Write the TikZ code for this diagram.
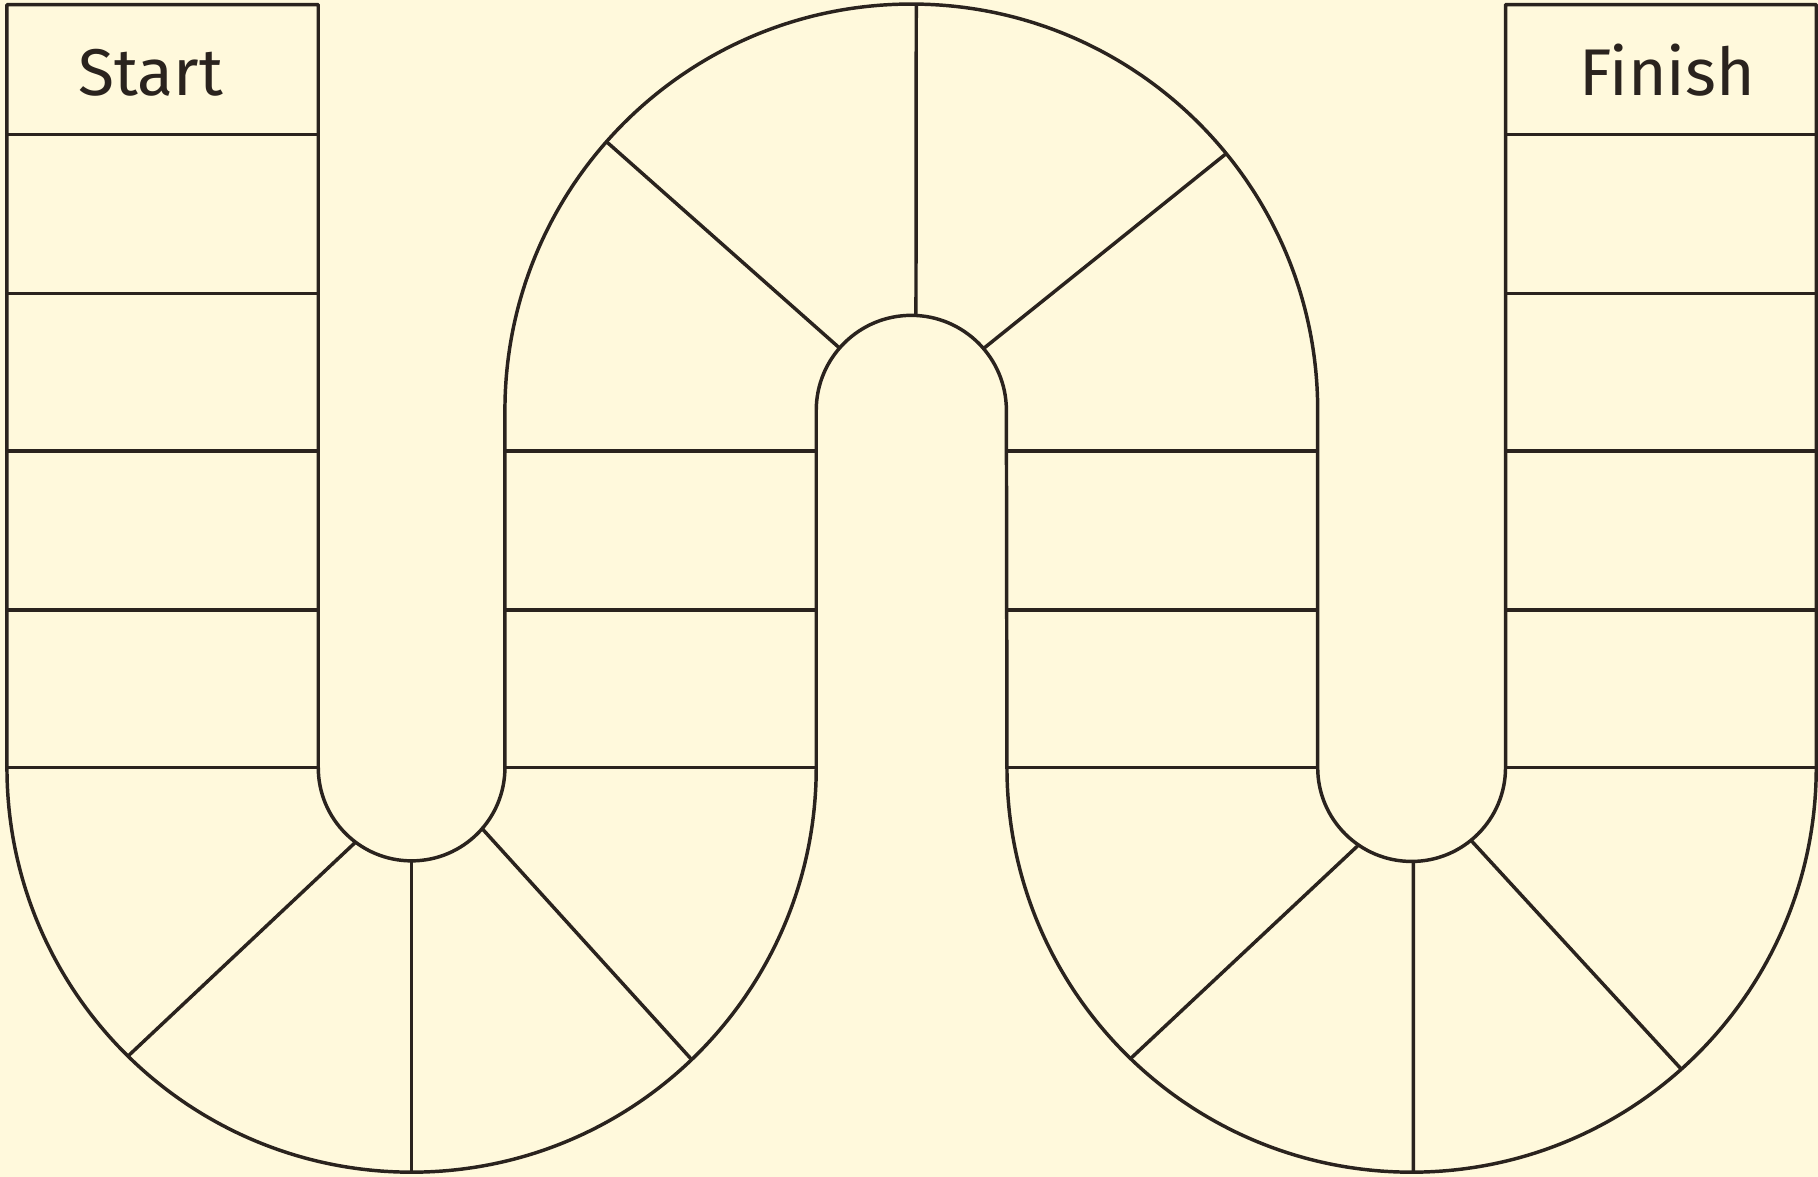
\documentclass[tikz,border=0pt]{standalone}
\usepackage{fontspec}
\setmainfont{Fira Sans}
\usetikzlibrary{calc}
\definecolor{bg}{HTML}{FFF9DC}
\definecolor{ink}{HTML}{2A231E}
\begin{document}
\begin{tikzpicture}[x=0.01cm,y=0.01cm,
  board/.style={draw=ink, line width=0.85pt, line join=round},
  lbl/.style={font=\fontsize{16.2}{18}\selectfont, text=ink, anchor=base, inner sep=0pt}]
\fill[bg] (0,0) rectangle (1568,1015);
\useasboundingbox (0,0) rectangle (1568,1015);
\coordinate (cL) at (355,353);
\coordinate (cT) at (786,661);
\coordinate (cR) at (1217.5,353);
% outline of the track
\draw[board] (6,1011) -- (274.5,1011) -- (274.5,353)
  arc[start angle=180,end angle=360,radius=80.5] -- (435.5,661)
  arc[start angle=180,end angle=0,radius=350.5] -- (1136.5,353)
  arc[start angle=180,end angle=360,radius=81] -- (1298.5,1011) -- (1566.5,1011) -- (1566.5,353)
  arc[start angle=0,end angle=-180,radius=349] -- (868,661)
  arc[start angle=0,end angle=180,radius=82] -- (704,353)
  arc[start angle=0,end angle=-180,radius=349] -- cycle;
% straight rows
\foreach \y in {899,762,626,489,353} {
  \draw[board] (6,\y) -- (274.5,\y);
  \draw[board] (1298.5,\y) -- (1566.5,\y);
}
\foreach \y in {626,489,353} {
  \draw[board] (435.5,\y) -- (704,\y);
  \draw[board] (868,\y) -- (1136.5,\y);
}
% spokes of the left bend
\draw[board] ($(cL)+(233.1:80.5)$) -- ($(cL)+(225.5:349)$);
\draw[board] ($(cL)+(270:80.5)$) -- ($(cL)+(270:349)$);
\draw[board] ($(cL)+(-40.9:80.5)$) -- ($(cL)+(-46.2:349)$);
% spokes of the top bend
\draw[board] ($(cT)+(139:82)$) -- ($(cT)+(138.6:350.5)$);
\draw[board] ($(cT)+(87.2:82)$) -- ($(cT)+(89.3:350.5)$);
\draw[board] ($(cT)+(40.6:82)$) -- ($(cT)+(39.2:350.5)$);
% spokes of the right bend
\draw[board] ($(cR)+(235.6:81)$) -- ($(cR)+(226:349)$);
\draw[board] ($(cR)+(271.06:81)$) -- ($(cR)+(270.25:349)$);
\draw[board] ($(cR)+(-50.8:81)$) -- ($(cR)+(-48.2:349)$);
% labels
\node[lbl] (start) at (130,933) {Start};
\node[lbl] (finish) at (1438,933) {Finish};
\end{tikzpicture}
\end{document}
